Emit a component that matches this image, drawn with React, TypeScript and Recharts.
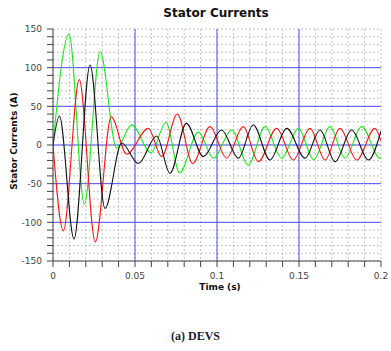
import React from 'react';
import { LineChart, Line, XAxis, YAxis, CartesianGrid } from 'recharts';

// Phase currents: [time (s), current (A)]
const blackT = [0, 0.0039, 0.0128, 0.0226, 0.0317, 0.0419, 0.052, 0.0632, 0.0713, 0.0813, 0.0917, 0.1028, 0.113, 0.1221, 0.1323, 0.1425, 0.1537, 0.1628, 0.172, 0.1821, 0.1923, 0.2];
const blackV = [0, 37.5, -121.6, 103.5, -82, 2.5, -24, 11.6, -36.6, 28, -15, 19.4, -17, 25.9, -19.4, 21.5, -17, 19.4, -21.5, 19.4, -19.4, 18];

const redT = [0, 0.0063, 0.016, 0.0258, 0.0355, 0.0449, 0.0581, 0.0663, 0.0758, 0.0852, 0.0957, 0.1059, 0.116, 0.1252, 0.1364, 0.1465, 0.1567, 0.1659, 0.175, 0.1852, 0.1963, 0.2];
const redV = [0, -111, 84.5, -125.5, 36.6, -12, 21.5, -15, 40, -24, 23.7, -17, 23.7, -21.5, 21.5, -19.4, 21.5, -19.4, 21.5, -19.4, 21.5, 5];

const greenT = [0, 0.0098, 0.0191, 0.0287, 0.0388, 0.048, 0.0597, 0.0689, 0.0772, 0.0886, 0.0978, 0.109, 0.119, 0.1293, 0.1394, 0.1496, 0.159, 0.1689, 0.178, 0.1882, 0.1994, 0.2];
const greenV = [0, 143, -76.5, 121, -4, 26, -10, 29, -36, 16.7, -17, 19.4, -26, 23.7, -17, 21.5, -19, 23.7, -17, 23.7, -17, -16];

const xTicks = [0, 0.01, 0.02, 0.03, 0.04, 0.05, 0.06, 0.07, 0.08, 0.09, 0.1, 0.11, 0.12, 0.13, 0.14, 0.15, 0.16, 0.17, 0.18, 0.19, 0.2];
const yTicks = [-150, -140, -130, -120, -110, -100, -90, -80, -70, -60, -50, -40, -30, -20, -10, 0, 10, 20, 30, 40, 50, 60, 70, 80, 90, 100, 110, 120, 130, 140, 150];
const xMajor = [0.05, 0.1, 0.15];
const yMajor = [-100, -50, 0, 50, 100];

const toRows = (ts: number[], vs: number[]) => ts.map((t, i) => ({ t, v: vs[i] }));
const blackData = toRows(blackT, blackV);
const redData = toRows(redT, redV);
const greenData = toRows(greenT, greenV);

const fmtX = (v: number) => {
  const k = v * 20;
  return Math.abs(k - Math.round(k)) < 1e-6 ? String(Math.round(k * 5) / 100) : '';
};
const fmtY = (v: number) => (v % 50 === 0 ? String(v) : '');

const tickStyle = { fontFamily: 'DejaVu Sans', fontSize: 9, fill: '#444' };

export default function App() {
  return (
    <div style={{ position: 'absolute', left: 0, top: 0, width: 391, height: 351, background: '#fff' }}>
      <LineChart width={391} height={351} margin={{ top: 29, right: 10, bottom: 60, left: 0 }}>
        <CartesianGrid stroke="#c4c4c4" strokeDasharray="2 2" />
        <CartesianGrid stroke="#5050f5" horizontalValues={yMajor} verticalValues={xMajor} />
        <XAxis
          dataKey="t"
          type="number"
          domain={[0, 0.2]}
          ticks={xTicks}
          tickFormatter={fmtX}
          interval={0}
          height={30}
          tickSize={6}
          tickMargin={6}
          stroke="#444"
          tick={tickStyle}
          allowDataOverflow
        />
        <YAxis
          type="number"
          domain={[-150, 150]}
          ticks={yTicks}
          tickFormatter={fmtY}
          interval={0}
          width={53}
          tickSize={6}
          tickMargin={5}
          stroke="#444"
          tick={tickStyle}
          allowDataOverflow
        />
        <Line data={greenData} dataKey="v" type="monotone" stroke="#1ee61e" strokeWidth={1.1} dot={false} isAnimationActive={false} />
        <Line data={redData} dataKey="v" type="monotone" stroke="#f01818" strokeWidth={1.1} dot={false} isAnimationActive={false} />
        <Line data={blackData} dataKey="v" type="monotone" stroke="#111" strokeWidth={1.1} dot={false} isAnimationActive={false} />
      </LineChart>
      <svg width={391} height={351} style={{ position: 'absolute', left: 0, top: 0, pointerEvents: 'none' }}>
        <text x={216} y={17} textAnchor="middle" fontFamily="DejaVu Sans" fontWeight="bold" fontSize={12} fill="#111">Stator Currents</text>
        <text transform="translate(17,141) rotate(-90)" textAnchor="middle" fontFamily="DejaVu Sans" fontWeight="bold" fontSize={9} fill="#111">Stator Currents (A)</text>
        <text x={220} y={290} textAnchor="middle" fontFamily="DejaVu Sans" fontWeight="bold" fontSize={9} fill="#111">Time (s)</text>
        <text x={171} y={340} textAnchor="start" fontFamily="Liberation Serif" fontWeight="bold" fontSize={12} fill="#1c1c30">(a) DEVS</text>
      </svg>
    </div>
  );
}
